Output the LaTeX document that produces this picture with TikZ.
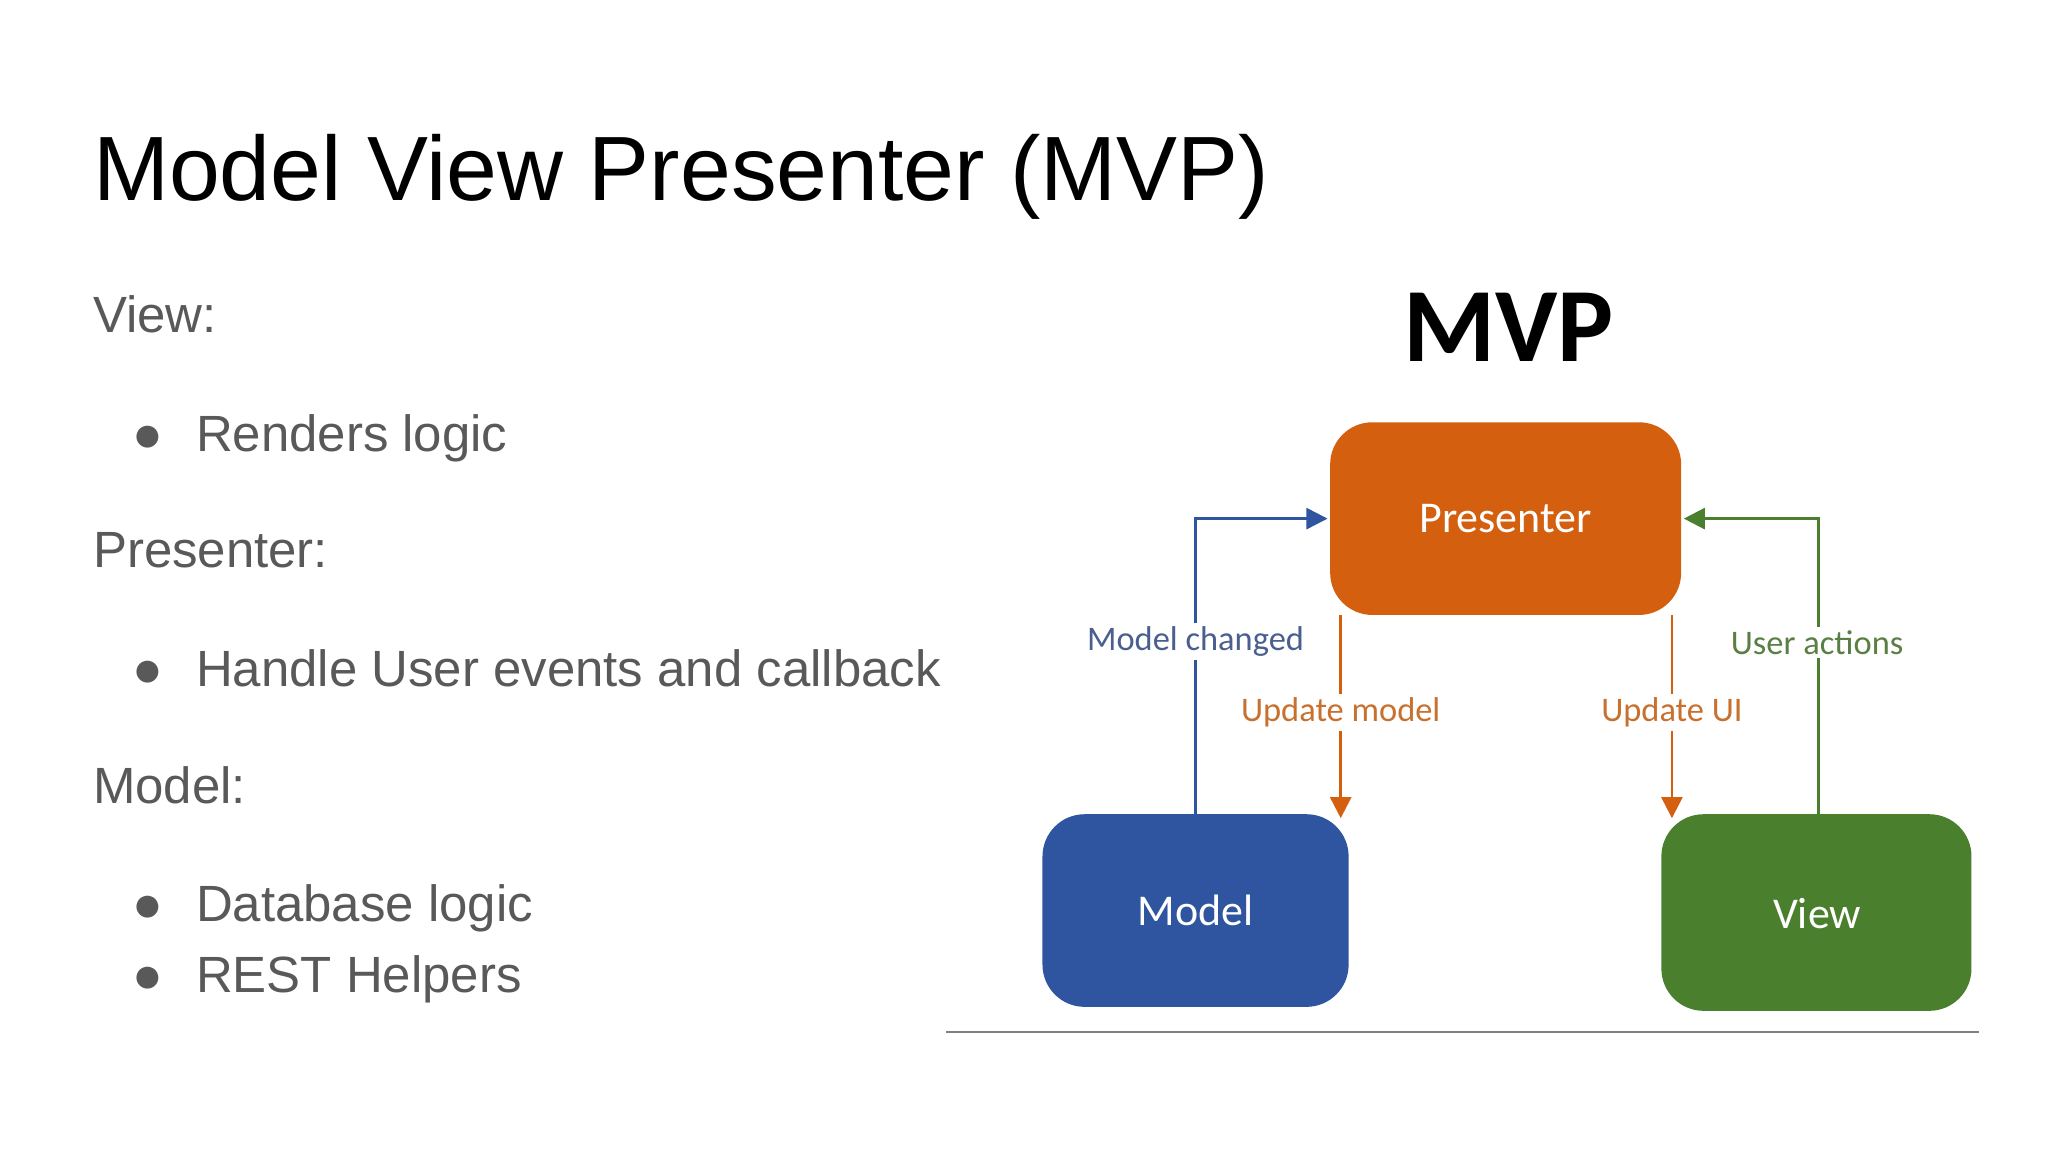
\documentclass[tikz,border=0pt]{standalone}
\usepackage{fontspec}
\setmainfont{Liberation Sans}
\newfontfamily\carl{Carlito}
\usetikzlibrary{arrows.meta}
\definecolor{txt}{HTML}{595959}
\definecolor{porange}{HTML}{D4600F}
\definecolor{mblue}{HTML}{2F55A0}
\definecolor{vgreen}{HTML}{4A7F2E}
\definecolor{lblue}{HTML}{4A5F8F}
\definecolor{lorange}{HTML}{C8702E}
\definecolor{lgreen}{HTML}{5A7F45}
\begin{document}
\begin{tikzpicture}[x=0.013196cm,y=-0.013196cm,
  body/.style={anchor=base west,text=txt,font=\fontsize{14.5pt}{17pt}\selectfont,inner sep=0},
  box/.style={draw=none,rounded corners=12pt,text=white,font=\carl\fontsize{12.5pt}{15pt}\selectfont},
  lbl/.style={font=\carl\fontsize{9.8pt}{12pt}\selectfont,fill=white,inner sep=1pt},
  arr/.style={-{Triangle[length=6pt,width=6pt]},line width=0.7pt}]
\useasboundingbox (0,0) rectangle (1552,873);
\node[anchor=base west,inner sep=0,font=\fontsize{26pt}{30pt}\selectfont] (title) at (70,152) {Model View Presenter (MVP)};
\node[body] (v) at (70,252) {View:};
\node[body] (b1) at (100,342) {●};
\node[body] (r) at (148,342) {Renders logic};
\node[body] (p) at (70,430) {Presenter:};
\node[body] (b2) at (100,520) {●};
\node[body] (h) at (148,520) {Handle User events and callback};
\node[body] (m) at (70,609) {Model:};
\node[body] (b3) at (100,698) {●};
\node[body] (d) at (148,698) {Database logic};
\node[body] (b4) at (100,752) {●};
\node[body] (rh) at (148,752) {REST Helpers};
\node[font=\carl\bfseries\fontsize{30pt}{34pt}\selectfont] (mvp) at (1143,248) {MVP};
\fill[porange,rounded corners=12pt] (1008,320) rectangle (1274,466);
\node[box] (pres) at (1141,393) {Presenter};
\fill[mblue,rounded corners=12pt] (790,617) rectangle (1022,763);
\node[box] (model) at (906,690) {Model};
\fill[vgreen,rounded corners=12pt] (1259,617) rectangle (1494,766);
\node[box] (view) at (1377,692) {View};
\coordinate (pl) at (1006,393); \coordinate (pr) at (1276,393);
\coordinate (mt) at (906,617); \coordinate (vt) at (1378,617);
\coordinate (pb1) at (1016,466); \coordinate (mt2) at (1016,620);
\coordinate (pb2) at (1267,466); \coordinate (vt2) at (1267,620);
\draw[arr,mblue] (mt) |- (pl);
\draw[arr,vgreen] (vt) |- (pr);
\draw[arr,porange] (pb1) -- (mt2);
\draw[arr,porange] (pb2) -- (vt2);
\node[lbl,text=lblue] (l1) at (906,486) {Model changed};
\node[lbl,text=lorange] (l2) at (1016,540) {Update model};
\node[lbl,text=lorange] (l3) at (1267,540) {Update UI};
\node[lbl,text=lgreen] (l4) at (1377,487) {User actions};
\coordinate (la) at (717,782); \coordinate (lb) at (1500,782);
\draw[gray,line width=0.8pt] (la) -- (lb);
\end{tikzpicture}
\end{document}
